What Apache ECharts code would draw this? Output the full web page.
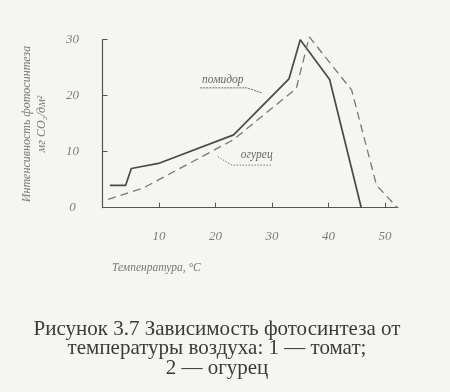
<!DOCTYPE html>
<html><head><meta charset="utf-8">
<script src="https://cdn.jsdelivr.net/npm/echarts@6/dist/echarts.min.js"></script>
<style>html,body{margin:0;padding:0;background:#f5f5f2;}#c{width:450px;height:392px;}</style>
</head><body><div id="c"></div>
<script>
// Data
const tomatoX = [1.3, 4.1, 5.1, 9.9, 23.2, 33.0, 35.0, 40.2, 45.8];
const tomatoY = [4.0, 4.0, 7.0, 7.9, 13.0, 23.0, 30.0, 22.9, 0];
const cucumberX = [1.0, 7.2, 23.1, 34.3, 36.6, 44.1, 48.5, 52.2];
const cucumberY = [1.5, 3.5, 12.1, 21.3, 30.5, 21.0, 4.0, 0];
const xTicks = [10, 20, 30, 40, 50];
const yTicks = [0, 10, 20, 30];
const yName1 = 'Интенсивность фотосинтеза';
const yName2 = 'мг СО₂/дм²';
const xName = 'Темпенратура, °С';
const tomatoLabel = 'помидор';
const cucumberLabel = 'огурец';
const captionLines = ['Рисунок 3.7 Зависимость фотосинтеза от', 'температуры воздуха: 1 — томат;', '2 — огурец'];
// annotation anchor points in data units
const tomatoLeader = [[17.3, 21.4], [25.6, 21.4], [28.2, 20.5]];
const tomatoText = [21.3, 22.8];
const cucumberLeader = [[20.4, 9.1], [22.9, 7.6], [30.0, 7.6]];
const cucumberText = [27.3, 9.4];

const zip = (a, b) => a.map((v, i) => [v, b[i]]);
const chart = echarts.init(document.getElementById('c'), null, {renderer: 'canvas'});
const lblFont = {fontFamily: 'Liberation Serif', fontStyle: 'italic', fontSize: 13, color: '#7a7a7a'};
const option = {
  backgroundColor: '#f5f5f2',
  animation: false,
  grid: {left: 102.5, right: 52, top: 39.7, bottom: 184.3},
  xAxis: {
    type: 'value', min: 0, max: 52.3,
    splitLine: {show: false},
    axisLine: {lineStyle: {color: '#555', width: 1.2}},
    axisTick: {inside: true, length: 5, customValues: xTicks, lineStyle: {color: '#555'}},
    axisLabel: Object.assign({customValues: xTicks, margin: 22}, lblFont)
  },
  yAxis: {
    type: 'value', min: 0, max: 30,
    splitLine: {show: false},
    axisLine: {show: true, lineStyle: {color: '#555', width: 1.2}},
    axisTick: {show: true, inside: true, length: 5, customValues: yTicks.slice(1), lineStyle: {color: '#555'}},
    axisLabel: Object.assign({customValues: yTicks, margin: 30, align: 'center'}, lblFont)
  },
  series: [
    {type: 'line', data: zip(tomatoX, tomatoY), symbol: 'none', clip: false,
     lineStyle: {color: '#4a4a4a', width: 1.7}},
    {type: 'line', data: zip(cucumberX, cucumberY), symbol: 'none', clip: false,
     lineStyle: {color: '#777', width: 1.3, type: [8, 5]}}
  ]
};
chart.setOption(option);
const P = p => chart.convertToPixel({gridIndex: 0}, p);
const annFont = '11.5px "Liberation Serif"';
const graphic = [
  {type: 'polyline', shape: {points: tomatoLeader.map(P)}, style: {stroke: '#666', lineWidth: 1, lineDash: [2, 1], fill: null}},
  {type: 'text', x: P(tomatoText)[0], y: P(tomatoText)[1], style: {text: tomatoLabel, font: 'italic ' + annFont, fill: '#666', align: 'center', verticalAlign: 'middle'}},
  {type: 'polyline', shape: {points: cucumberLeader.map(P)}, style: {stroke: '#777', lineWidth: 1, lineDash: [1.5, 1.5], fill: null}},
  {type: 'text', x: P(cucumberText)[0], y: P(cucumberText)[1], style: {text: cucumberLabel, font: 'italic ' + annFont, fill: '#666', align: 'center', verticalAlign: 'middle'}},
  {type: 'text', x: 27, y: 124, rotation: Math.PI / 2, style: {text: yName1, font: 'italic 12px "Liberation Serif"', fill: '#777', align: 'center', verticalAlign: 'middle'}},
  {type: 'text', x: 42, y: 124, rotation: Math.PI / 2, style: {text: yName2, font: 'italic 12px "Liberation Serif"', fill: '#777', align: 'center', verticalAlign: 'middle'}},
  {type: 'text', x: 112, y: 268, style: {text: xName, font: 'italic 11.5px "Liberation Serif"', fill: '#777', align: 'left', verticalAlign: 'middle'}}
];
captionLines.forEach((t, i) => {
  graphic.push({type: 'text', x: 217, y: 329 + i * 19.5, style: {text: t, font: '21px "Liberation Serif"', fill: '#3a3a3a', align: 'center', verticalAlign: 'middle'}});
});
chart.setOption({graphic: graphic});
</script></body></html>
